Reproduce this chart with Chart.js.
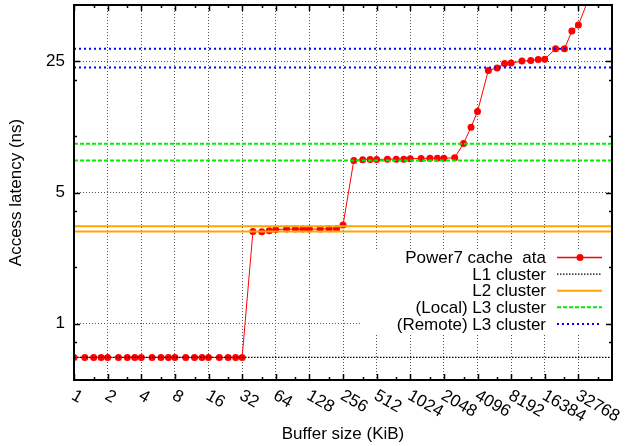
<!DOCTYPE html>
<html><head><meta charset="utf-8">
<script src="https://cdn.jsdelivr.net/npm/chart.js@4/dist/chart.umd.min.js"></script>
<style>html,body{margin:0;padding:0;background:#fff}#c{display:block}</style>
</head><body>
<canvas id="c" width="625" height="446"></canvas>
<script>
// ---- data ----
const bufferSizesKiB = [1,1.25,1.5,1.75,2,2.5,3,3.5,4,5,6,7,8,10,12,14,16,20,24,28,32,
  40,48,56,64,80,96,112,128,160,192,224,256,
  320,384,448,512,640,768,896,1024,1280,1536,1792,2048,2560,
  3072,3584,4096,5120,6144,7168,8192,10240,12288,14336,16384,20480,24576,28672,32768,40960];
const latencyNs = [0.66,0.66,0.66,0.66,0.66,0.66,0.66,0.66,0.66,0.66,0.66,0.66,0.66,0.66,0.66,0.66,0.66,0.66,0.66,0.66,0.66,
  3.10,3.09,3.13,3.17,3.19,3.19,3.19,3.19,3.19,3.20,3.20,3.35,
  7.41,7.47,7.50,7.50,7.53,7.53,7.53,7.56,7.60,7.62,7.62,7.62,7.66,
  9.13,11.15,13.5,22.4,23.1,24.4,24.5,25.1,25.3,25.6,25.7,29.2,29.2,36.3,39.1,55];
const l1Cluster = [0.66];
const l2Cluster = [3.10, 3.30];
const l3LocalCluster = [7.41, 9.09];
const l3RemoteCluster = [23.2, 29.2];
const xTickValues = [1,2,4,8,16,32,64,128,256,512,1024,2048,4096,8192,16384,32768];
const xTickLabels = ['1','2','4','8','16','32','64','128','256','512','1024','2048','4096','8192','16384','32768'];
const yTickValues = [1,5,25];
const yTickLabels = ['1','5','25'];
const yMinorTicks = [0.8,2,4,10,20];
const seriesNames = ['Power7 cache  ata','L1 cluster','L2 cluster','(Local) L3 cluster','(Remote) L3 cluster'];

const X_MIN = 1, X_MAX = 65536, Y_MIN = 0.5, Y_MAX = 50;
const FONT = '"Liberation Sans", Arial, sans-serif';
const FS = 17;

const styles = {
  data: {color:'#ff0000', width:1, dash:[]},
  l1: {color:'#000000', width:1.2, dash:[1.5,1.5]},
  l2: {color:'#ffa500', width:2, dash:[]},
  l3: {color:'#00ee00', width:2, dash:[4,2]},
  l3r:{color:'#0000ff', width:2, dash:[2,3]}
};

function hline(v){ return [{x:X_MIN,y:v},{x:X_MAX,y:v}]; }
function refSets(vals, st){
  return vals.map(v => ({data: hline(v), borderColor: st.color, borderWidth: st.width,
    borderDash: st.dash, pointRadius: 0, order: 0, fill:false, tension:0}));
}

const datasets = [
  {label: seriesNames[0], data: bufferSizesKiB.map((x,i)=>({x, y: latencyNs[i]})),
   borderColor: styles.data.color, backgroundColor: styles.data.color, borderWidth: 1,
   pointRadius: 3.5, pointBorderWidth: 0, pointBackgroundColor: styles.data.color, order: 10, tension: 0}
].concat(refSets(l1Cluster, styles.l1), refSets(l2Cluster, styles.l2),
         refSets(l3LocalCluster, styles.l3), refSets(l3RemoteCluster, styles.l3r));

const legendStyles = [styles.data, styles.l1, styles.l2, styles.l3, styles.l3r];

const decor = {
  id: 'decor',
  beforeDatasetsDraw(chart){
    const ctx = chart.ctx, a = chart.chartArea;
    ctx.save(); ctx.fillStyle = '#ffffff';
    ctx.fillRect(360, 249, a.right - 361, 84);
    ctx.restore();
  },
  afterDatasetsDraw(chart){
    const ctx = chart.ctx, a = chart.chartArea;
    const xs = chart.scales.x, ys = chart.scales.y;
    ctx.save();
    // ticks
    ctx.strokeStyle = '#000'; ctx.lineWidth = 1.5; ctx.setLineDash([]);
    ctx.beginPath();
    xTickValues.forEach(v => { const px = Math.round(xs.getPixelForValue(v))+0.5;
      ctx.moveTo(px, a.bottom); ctx.lineTo(px, a.bottom-6);
      ctx.moveTo(px, a.top); ctx.lineTo(px, a.top+6); });
    xTickValues.forEach(v => { const m = v*1.5; if (m >= X_MAX) return;
      const px = Math.round(xs.getPixelForValue(m))+0.5;
      ctx.moveTo(px, a.bottom); ctx.lineTo(px, a.bottom-3);
      ctx.moveTo(px, a.top); ctx.lineTo(px, a.top+3); });
    yTickValues.forEach(v => { const py = Math.round(ys.getPixelForValue(v))+0.5;
      ctx.moveTo(a.left, py); ctx.lineTo(a.left+6, py);
      ctx.moveTo(a.right, py); ctx.lineTo(a.right-6, py); });
    yMinorTicks.forEach(v => { const py = Math.round(ys.getPixelForValue(v))+0.5;
      ctx.moveTo(a.left, py); ctx.lineTo(a.left+3, py);
      ctx.moveTo(a.right, py); ctx.lineTo(a.right-3, py); });
    ctx.stroke();
    // frame
    ctx.lineWidth = 2;
    ctx.strokeRect(a.left, a.top, a.right - a.left, a.bottom - a.top);
    // x tick labels, rotated
    ctx.fillStyle = '#000'; ctx.font = FS + 'px ' + FONT;
    ctx.textAlign = 'left'; ctx.textBaseline = 'top';
    xTickValues.forEach((v,i) => {
      const px = xs.getPixelForValue(v);
      ctx.save(); ctx.translate(px + 3, a.bottom + 7); ctx.rotate(Math.PI/6);
      ctx.fillText(xTickLabels[i], 0, 0); ctx.restore();
    });
    // legend
    ctx.textAlign = 'right'; ctx.textBaseline = 'middle';
    seriesNames.forEach((name, i) => {
      const cy = 257.5 + i*16.6;
      ctx.fillStyle = '#000';
      ctx.fillText(name, 546, cy+1);
      const st = legendStyles[i];
      ctx.strokeStyle = st.color; ctx.lineWidth = i === 0 ? 1.5 : st.width;
      ctx.setLineDash(st.dash);
      ctx.beginPath(); ctx.moveTo(557, cy); ctx.lineTo(602, cy); ctx.stroke();
      ctx.setLineDash([]);
      if (i === 0) { ctx.fillStyle = st.color; ctx.beginPath(); ctx.arc(580, cy, 3.5, 0, Math.PI*2); ctx.fill(); }
    });
    ctx.restore();
  }
};

new Chart(document.getElementById('c'), {
  type: 'line',
  data: { datasets },
  options: {
    responsive: false, animation: false, devicePixelRatio: 1,
    layout: { padding: { top: 5, right: 13, left: 0, bottom: 0 } },
    plugins: { legend: { display: false }, tooltip: { enabled: false } },
    scales: {
      x: {
        type: 'logarithmic', min: X_MIN, max: X_MAX,
        afterBuildTicks: s => { s.ticks = xTickValues.map(v => ({value: v})); },
        afterFit: s => { s.height = 66; s.paddingLeft = 0; s.paddingRight = 0; },
        ticks: { display: false },
        grid: { display: true, drawTicks: false, color: '#555', lineWidth: 1 },
        border: { display: false, dash: [1,2] },
        title: { display: true, text: 'Buffer size (KiB)', color: '#000',
                 font: { family: FONT, size: FS }, padding: { top: 0, bottom: 1 } }
      },
      y: {
        type: 'logarithmic', min: Y_MIN, max: Y_MAX,
        afterBuildTicks: s => { s.ticks = yTickValues.map(v => ({value: v})); },
        afterFit: s => { s.width = 74; s.paddingTop = 0; s.paddingBottom = 0; },
        ticks: { color: '#000', font: { family: FONT, size: FS }, padding: 9,
                 callback: (v) => { const i = yTickValues.indexOf(v); return i >= 0 ? yTickLabels[i] : ''; } },
        grid: { display: true, drawTicks: false, color: '#555', lineWidth: 1 },
        border: { display: false, dash: [1,2] },
        title: { display: true, text: 'Access latency (ns)', color: '#000',
                 font: { family: FONT, size: FS }, padding: { top: 6, bottom: 0 } }
      }
    }
  },
  plugins: [decor]
});
</script>
</body></html>
